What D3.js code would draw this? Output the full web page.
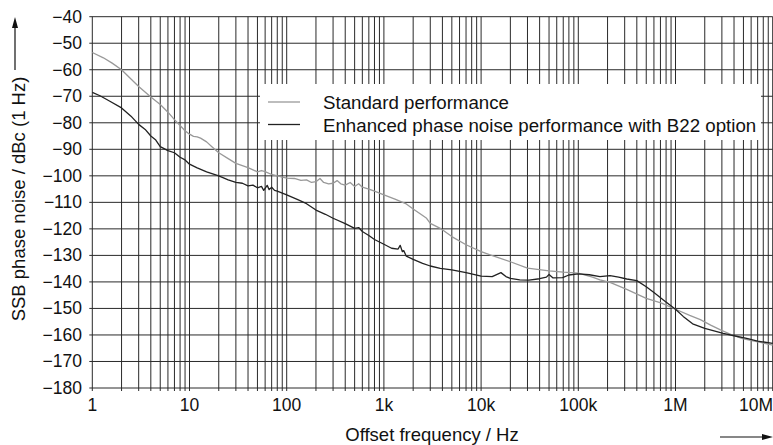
<!DOCTYPE html>
<html>
<head>
<meta charset="utf-8">
<script src="https://cdn.jsdelivr.net/npm/d3@7"></script>
<style>
  body { margin: 0; background: #fff; }
  text { font-family: "Liberation Sans", Arial, Helvetica, sans-serif; fill: #111; }
</style>
</head>
<body>
<script>
// offset frequency (Hz) and SSB phase noise (dBc/Hz)
const stdFreq = [1, 1.3, 1.6, 2, 2.5, 3, 4, 5, 6, 7, 8, 9, 10, 11, 12, 13, 15, 17, 20, 25, 30, 40, 50, 55, 60, 70, 80,
  100, 120, 140, 160, 180, 200, 220, 240, 270, 300, 330, 360, 400, 450, 500, 550, 600, 700, 800,
  1000, 1300, 1700, 2000, 2400, 2750, 3000, 3800, 5000, 7000, 10000, 14000, 20000, 30000, 50000, 70000,
  100000, 140000, 167000, 212000, 315000, 500000, 720000, 1000000, 1400000, 1800000, 2300000, 2900000,
  4000000, 4900000, 7000000, 10000000];
const stdVal = [-53.5, -55.5, -57.5, -60, -63.5, -66.3, -70.3, -73.1, -76, -78.8, -81, -83, -84.3, -85.1, -85.3, -85.8, -87.2, -89, -91.3, -93.5, -95.3, -96.9, -98.5, -98, -98.4, -99.5, -100,
  -100.9, -101, -101.7, -101.5, -102.5, -102.2, -101, -102.5, -103, -102.8, -101.8, -103, -103.5, -102.5, -104, -103, -104.3, -105, -105.8,
  -107.2, -108.8, -110.6, -112.5, -114.5, -116, -117.9, -119.8, -122.9, -126, -128.6, -130.5, -132.4, -134.8, -135.8, -136.3,
  -136.7, -138.2, -139.2, -140.2, -142.8, -146.2, -148, -150.3, -152.6, -154.2, -156.3, -158.1,
  -160.3, -161.4, -162.6, -163.8];

const enhFreq = [1, 1.2, 1.5, 2, 2.5, 3, 3.5, 4, 4.5, 5, 6, 7, 8, 9, 10, 12, 15, 20, 25, 30, 35, 40, 45, 50, 55, 58, 63, 66, 70, 75, 80,
  100, 130, 160, 200, 250, 300, 400, 500, 550, 600, 700, 800,
  1000, 1200, 1400, 1470, 1550, 1600, 1700, 2000, 2500, 3000, 3800, 5000, 7000, 10000, 13000, 16000, 18000, 20000, 25000, 31000,
  40000, 47000, 50000, 55000, 69000, 80000, 100000, 130000, 167000, 212000, 260000, 315000, 400000, 500000, 600000, 750000,
  1000000, 1200000, 1500000, 2000000, 3100000, 4000000, 5400000, 7000000, 10000000];
const enhVal = [-68.5, -69.8, -71.8, -74.4, -77.5, -80.6, -82.5, -85, -86.5, -89, -90.5, -91.3, -93, -94, -95.6, -97, -98.5, -100, -101.5, -102.5, -102.8, -103.8, -103.5, -104.5, -104, -105.5, -103.6, -105.2, -104.3, -105.5, -105.8,
  -107.2, -109, -110.5, -112.9, -114.5, -116, -118, -119.8, -119.5, -121, -122.5, -124,
  -125.8, -127.3, -127.6, -126.2, -128.6, -128.2, -130.3, -131.5, -133, -134, -134.9, -135.5, -136.5, -137.8, -138, -136.5, -138, -138.7, -139.2, -139.3,
  -138.8, -138.2, -137.2, -138.5, -138.4, -137.4, -137, -137.3, -138, -137.6, -138.2, -138.9, -139.5, -141.8, -144, -146.8,
  -150.3, -153, -155.8, -157.5, -159.4, -160.3, -161.3, -162.3, -163.2];

const xTicks = [1, 10, 100, 1e3, 1e4, 1e5, 1e6, 1e7];
const xTickLabels = ['1', '10', '100', '1k', '10k', '100k', '1M', '10M'];
const yTicks = d3.range(-180, -39, 10);
const seriesNames = ['Standard performance', 'Enhanced phase noise performance with B22 option'];
const seriesColors = ['#999', '#222'];

const width = 773;
const height = 445;
const svg = d3.select('body').append('svg')
  .attr('width', width)
  .attr('height', height);

const x = d3.scaleLog().domain([1, 1e7]).range([92.3, 772.7]);
const y = d3.scaleLinear().domain([-180, -40]).range([388, 16.7]);

// grid: every 1..9 per decade, every 10 dB
const minor = [];
for (let d = 1; d < 1e7; d *= 10) {
  for (let k = 1; k < 10; k++) minor.push(d * k);
}
minor.push(1e7);

const grid = svg.append('g').attr('stroke', '#2a2a2a').attr('stroke-width', 1);
grid.selectAll('.vg')
  .data(minor)
  .enter().append('line')
  .attr('class', 'vg')
  .attr('x1', d => x(d)).attr('x2', d => x(d))
  .attr('y1', y(-40)).attr('y2', y(-180) + 3);
grid.selectAll('.hg')
  .data(yTicks)
  .enter().append('line')
  .attr('class', 'hg')
  .attr('x1', x(1) - 3).attr('x2', x(1e7))
  .attr('y1', d => y(d)).attr('y2', d => y(d));

// curves
const line = d3.line()
  .x(d => x(d[0]))
  .y(d => y(d[1]));

const series = [
  d3.zip(stdFreq, stdVal),
  d3.zip(enhFreq, enhVal)
];

svg.selectAll('.curve')
  .data(series)
  .enter().append('path')
  .attr('class', 'curve')
  .attr('fill', 'none')
  .attr('stroke', (d, i) => seriesColors[i])
  .attr('stroke-width', 1.3)
  .attr('stroke-linejoin', 'round')
  .attr('d', line);

// legend
const legend = svg.append('g');
legend.append('rect')
  .attr('x', 260).attr('y', 84)
  .attr('width', 501).attr('height', 56)
  .attr('fill', '#fff');
const item = legend.selectAll('.item')
  .data(seriesNames)
  .enter().append('g')
  .attr('class', 'item')
  .attr('transform', (d, i) => `translate(0, ${102 + i * 22.5})`);
item.append('line')
  .attr('x1', 268).attr('x2', 300)
  .attr('stroke', (d, i) => seriesColors[i])
  .attr('stroke-width', 1.3);
item.append('text')
  .attr('x', 323).attr('y', 7)
  .attr('font-size', 18.7)
  .text(d => d);

// tick labels
svg.selectAll('.yl')
  .data(yTicks)
  .enter().append('text')
  .attr('class', 'yl')
  .attr('x', 82)
  .attr('y', d => y(d) + 6)
  .attr('text-anchor', 'end')
  .attr('font-size', 17.5)
  .text(d => d < 0 ? '\u2212' + Math.abs(d) : d);

svg.selectAll('.xl')
  .data(xTicks)
  .enter().append('text')
  .attr('class', 'xl')
  .attr('x', (d, i) => i === xTicks.length - 1 ? width : x(d))
  .attr('y', 411)
  .attr('text-anchor', (d, i) => i === xTicks.length - 1 ? 'end' : 'middle')
  .attr('font-size', 17.5)
  .text((d, i) => xTickLabels[i]);

// axis titles with arrows
svg.append('text')
  .attr('x', 432).attr('y', 441)
  .attr('text-anchor', 'middle')
  .attr('font-size', 18.5)
  .text('Offset frequency / Hz');

svg.append('text')
  .attr('transform', 'translate(25, 199) rotate(-90)')
  .attr('text-anchor', 'middle')
  .attr('font-size', 18.5)
  .text('SSB phase noise / dBc (1 Hz)');

svg.append('line')
  .attr('x1', 15).attr('x2', 15)
  .attr('y1', 70).attr('y2', 26)
  .attr('stroke', '#111').attr('stroke-width', 1.2);
svg.append('path')
  .attr('d', 'M15,17 L12,28 L18,28 Z')
  .attr('fill', '#111');

svg.append('line')
  .attr('x1', 720).attr('x2', 763)
  .attr('y1', 437).attr('y2', 437)
  .attr('stroke', '#111').attr('stroke-width', 1.2);
svg.append('path')
  .attr('d', 'M773,437 L762,434 L762,440 Z')
  .attr('fill', '#111');
</script>
</body>
</html>
